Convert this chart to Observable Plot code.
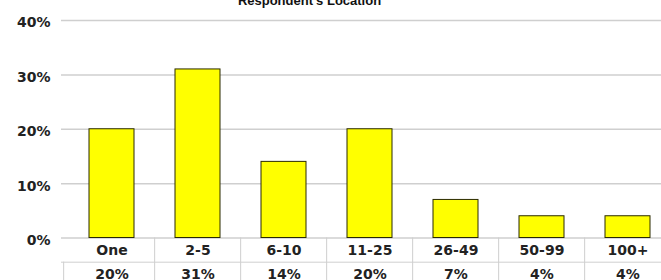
<!DOCTYPE html>
<html>
<head>
<meta charset="utf-8">
<script src="https://cdn.jsdelivr.net/npm/d3@7"></script>
<script src="https://cdn.jsdelivr.net/npm/@observablehq/plot@0.6"></script>
<style>
  html, body { margin: 0; padding: 0; background: #fff; overflow: hidden; }
  #chart svg { display: block; }
</style>
</head>
<body>
<div id="chart"></div>
<script>
const title = "Respondent's Location";
const categories = ["One", "2-5", "6-10", "11-25", "26-49", "50-99", "100+"];
const values = [20, 31, 14, 20, 7, 4, 4];
const yTicks = [0, 10, 20, 30, 40];

const data = categories.map((c, i) => ({category: c, value: values[i]}));

const xRange = [66, 673];
const step = (xRange[1] - xRange[0]) / categories.length;
const font = "DejaVu Sans, sans-serif";
const lineColor = "#cfcfcf";
const textColor = "#222";

const chart = Plot.plot({
  width: 661,
  height: 280,
  marginTop: 20,
  marginBottom: 42.5,
  marginLeft: 61,
  marginRight: 0,
  style: {fontFamily: font, background: "#fff", overflow: "hidden"},
  x: {domain: categories, range: xRange, paddingInner: 0.48, paddingOuter: 0.24, axis: null},
  y: {domain: [0, 40], axis: null},
  marks: [
    Plot.gridY(yTicks, {stroke: lineColor, strokeOpacity: 1, strokeWidth: 1.5}),
    Plot.axisY(yTicks, {
      label: null, tickSize: 0, tickPadding: 11, tickFormat: d => d + "%",
      fontSize: 14, fontWeight: "bold", fill: textColor, dy: 2.5
    }),
    Plot.barY(data, {x: "category", y: "value", fill: "#ffff00", stroke: "#2b2b00", strokeWidth: 1}),
    // table grid
    Plot.ruleX(categories.slice(1), {x: d => d, dx: -step / 2, y1: 0, y2: -10, stroke: lineColor, strokeWidth: 1}),
    Plot.ruleX([categories[0]], {x: d => d, dx: -step / 2 - 5, y1: 0, y2: -10, dy: 24.2, stroke: lineColor, strokeWidth: 1}),
    Plot.ruleY([0], {dy: 24.2, stroke: lineColor, strokeWidth: 1}),
    // table text
    Plot.text(categories, {x: d => d, y: 0, dy: 12.5, text: d => d, fontSize: 14, fontWeight: "bold", fill: textColor}),
    Plot.text(data, {x: "category", y: 0, dy: 36.8, text: d => d.value + "%", fontSize: 14, fontWeight: "bold", fill: textColor}),
    // title (partly cut off at top, as in the reference)
    Plot.text([title], {frameAnchor: "top", dx: -52, dy: -16, lineAnchor: "bottom", text: d => d,
      fontFamily: "Liberation Sans, sans-serif", fontSize: 13, fontWeight: "bold", fill: "#111"})
  ]
});
document.getElementById("chart").append(chart);
</script>
</body>
</html>
